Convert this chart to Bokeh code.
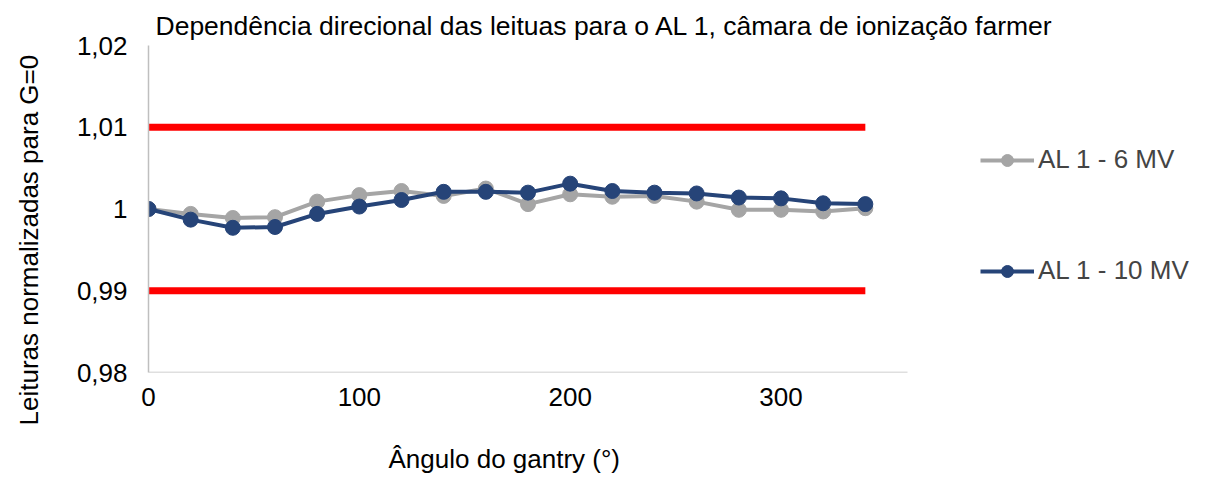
from bokeh.plotting import figure
from bokeh.models import FixedTicker, Legend, LegendItem, Title
from bokeh.embed import file_html
from bokeh.resources import INLINE

angles = [0, 20, 40, 60, 80, 100, 120, 140, 160, 180, 200, 220, 240, 260, 280, 300, 320, 340]
al1_6mv = [1.0000, 0.9994, 0.9989, 0.9990, 1.0009, 1.0017, 1.0022, 1.0016, 1.0025, 1.0006,
           1.0018, 1.0015, 1.0016, 1.0009, 0.9999, 0.9999, 0.9997, 1.0001]
al1_10mv = [1.0000, 0.9987, 0.9977, 0.9978, 0.9994, 1.0003, 1.0011, 1.0021, 1.0021, 1.0020,
            1.0031, 1.0022, 1.0020, 1.0019, 1.0014, 1.0013, 1.0007, 1.0006]
limit_x = [0, 340]
upper_limit = [1.01, 1.01]
lower_limit = [0.99, 0.99]

x_axis_span = [0, 360]
y_min, y_max = 0.98, 1.02
y_ticks = [0.98, 0.99, 1.0, 1.01, 1.02]
y_tick_labels = ["0,98", "0,99", "1", "1,01", "1,02"]
x_ticks = [0, 100, 200, 300]

title_text = "Dependência direcional das leituas para o AL 1, câmara de ionização farmer"
x_label = "Ângulo do gantry (°)"
y_label = "Leituras normalizadas para G=0"
series_names = ["AL 1 - 6 MV", "AL 1 - 10 MV"]

FONT = "Liberation Sans"
FS = "26px"
GRAY = "#A5A5A5"
BLUE = "#264478"
AXIS = "#BFBFBF"

W, H = 1200, 480
LEFT, TOP, AXIS_RIGHT, BOTTOM = 148, 45, 907, 372
# frame extends to the right edge so the legend (inside the frame) is not clipped;
# the x-axis line is drawn only over 0..360 as in the reference
x_end = x_axis_span[1] * (W - LEFT) / (AXIS_RIGHT - LEFT)

p = figure(width=W, height=H, output_backend="svg", toolbar_location=None,
           x_range=(0, x_end), y_range=(y_min, y_max),
           min_border_left=LEFT, min_border_right=0, min_border_top=TOP,
           min_border_bottom=H - BOTTOM)
p.outline_line_color = None
p.grid.visible = False

p.title.text = title_text
p.title.text_font = FONT
p.title.text_font_size = "26.5px"
p.title.text_font_style = "normal"
p.title.text_color = "#000000"
p.title.align = "left"
p.title.offset = 7
p.title.standoff = 10

for ax in (p.xaxis[0], p.yaxis[0]):
    ax.major_tick_line_color = None
    ax.minor_tick_line_color = None
    ax.major_tick_out = 0
    ax.major_tick_in = 0
    ax.minor_tick_out = 0
    ax.major_label_text_font = FONT
    ax.major_label_text_font_size = FS
    ax.major_label_text_color = "#000000"

p.yaxis[0].axis_line_color = AXIS
p.yaxis[0].axis_line_width = 1.5
p.yaxis[0].ticker = FixedTicker(ticks=y_ticks)
p.yaxis[0].major_label_overrides = dict(zip(y_ticks, y_tick_labels))
p.yaxis[0].major_label_standoff = 21

p.xaxis[0].axis_line_color = None
p.xaxis[0].ticker = FixedTicker(ticks=x_ticks)
p.xaxis[0].major_label_standoff = 15

p.line(x_axis_span, [y_min, y_min], line_color=AXIS, line_width=1.5)

# axis titles as panel titles; an empty line pushes the text away from the frame
xl = Title(text="\n" + x_label, align="left", offset=240, standoff=7, vertical_align="bottom",
           text_font=FONT, text_font_size=FS, text_font_style="normal", text_color="#000000")
p.add_layout(xl, "below")
yl = Title(text=y_label + "\n", align="left", offset=-53, standoff=0, vertical_align="bottom",
           text_font=FONT, text_font_size=FS, text_font_style="normal", text_color="#000000")
p.add_layout(yl, "left")

p.line(limit_x, upper_limit, line_color="#FF0000", line_width=7)
p.line(limit_x, lower_limit, line_color="#FF0000", line_width=7)

l1 = p.line(angles, al1_6mv, line_color=GRAY, line_width=4)
s1 = p.scatter(angles, al1_6mv, size=15, fill_color=GRAY, line_color=GRAY)
l2 = p.line(angles, al1_10mv, line_color=BLUE, line_width=4)
s2 = p.scatter(angles, al1_10mv, size=15, fill_color=BLUE, line_color=BLUE)

legend = Legend(items=[LegendItem(label=series_names[0], renderers=[l1, s1]),
                       LegendItem(label=series_names[1], renderers=[l2, s2])],
                location=(832, 86), orientation="vertical",
                glyph_width=54, glyph_height=30, label_height=30, spacing=80,
                padding=0, margin=0, label_standoff=4,
                border_line_color=None, background_fill_alpha=0,
                label_text_font=FONT, label_text_font_size=FS)
p.add_layout(legend, "center")

open("out.html", "w").write(file_html(p, INLINE))
